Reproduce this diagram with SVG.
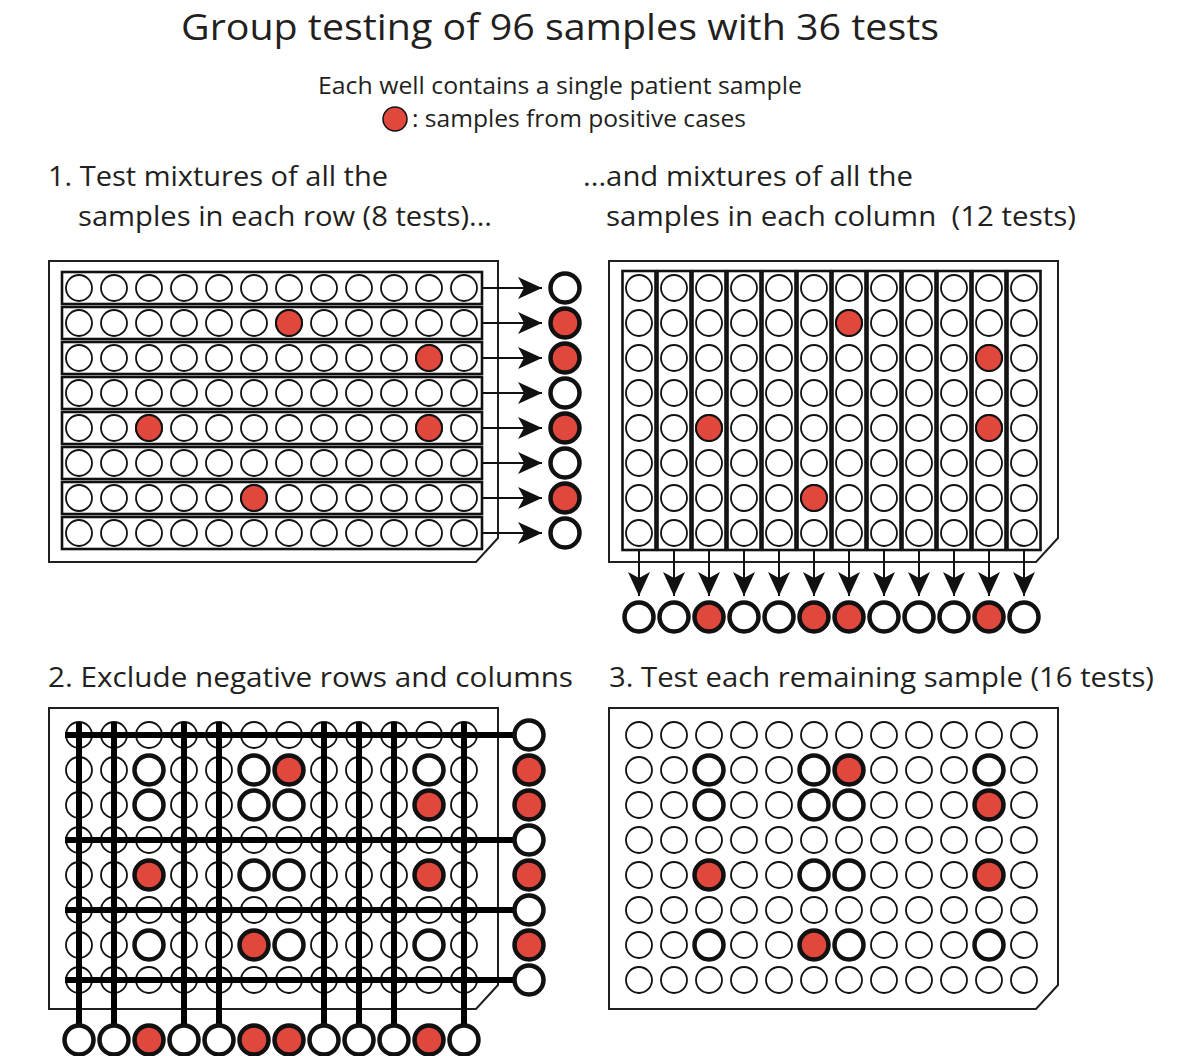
<svg xmlns="http://www.w3.org/2000/svg" xmlns:xlink="http://www.w3.org/1999/xlink" width="1200" height="1056" viewBox="0 0 1200 1056">
<style>
text{font-family:"Open Sans","Noto Sans","Liberation Sans",sans-serif;fill:#231F20}
.title{font-size:36px}
.sub{font-size:23px}
.head{font-size:27px}
.plate{fill:#fff;stroke:#231F20;stroke-width:2}
.strip{fill:#fff;stroke:#111;stroke-width:2.6}
.w{fill:#fff;stroke:#111;stroke-width:1.8}
.r{fill:#E0473D;stroke:#111;stroke-width:2}
.t{fill:#fff;stroke:#111;stroke-width:4.5}
.tr{fill:#E0473D;stroke:#111;stroke-width:4.5}
.res{fill:#fff;stroke:#111;stroke-width:4.5}
.resr{fill:#E0473D;stroke:#111;stroke-width:4.5}
.arr{stroke:#111;stroke-width:2;fill:none}
.bar{stroke:#000;stroke-width:6;fill:none}
</style>
<defs>
<marker id="ah" viewBox="0 0 24 22" refX="24" refY="11" markerWidth="24" markerHeight="22" markerUnits="userSpaceOnUse" orient="auto">
<path d="M0,0 L24,11 L0,22 L6,11 Z" fill="#111"/>
</marker>
<g id="row">
<circle class="w" cx="0" cy="0" r="13"/><circle class="w" cx="35" cy="0" r="13"/><circle class="w" cx="70" cy="0" r="13"/><circle class="w" cx="105" cy="0" r="13"/><circle class="w" cx="140" cy="0" r="13"/><circle class="w" cx="175" cy="0" r="13"/><circle class="w" cx="210" cy="0" r="13"/><circle class="w" cx="245" cy="0" r="13"/><circle class="w" cx="280" cy="0" r="13"/><circle class="w" cx="315" cy="0" r="13"/><circle class="w" cx="350" cy="0" r="13"/><circle class="w" cx="385" cy="0" r="13"/>
</g>
<g id="grid">
<use xlink:href="#row" y="0"/><use xlink:href="#row" y="35"/><use xlink:href="#row" y="70"/><use xlink:href="#row" y="105"/><use xlink:href="#row" y="140"/><use xlink:href="#row" y="175"/><use xlink:href="#row" y="210"/><use xlink:href="#row" y="245"/>
</g>
</defs>
<rect width="1200" height="1056" fill="#fff"/>

<g id="titles">
<text class="title" x="560" y="40" text-anchor="middle" textLength="758" lengthAdjust="spacingAndGlyphs">Group testing of 96 samples with 36 tests</text>
<text class="sub" x="560" y="94" text-anchor="middle" textLength="484" lengthAdjust="spacingAndGlyphs">Each well contains a single patient sample</text>
<circle class="r" cx="395" cy="119" r="12" style="stroke-width:1.5"/>
<text class="sub" x="412" y="127" textLength="334" lengthAdjust="spacingAndGlyphs">: samples from positive cases</text>
<text class="head" x="48" y="186" textLength="340" lengthAdjust="spacingAndGlyphs">1. Test mixtures of all the</text>
<text class="head" x="78" y="226" textLength="414" lengthAdjust="spacingAndGlyphs">samples in each row (8 tests)...</text>
<text class="head" x="583" y="186" textLength="330" lengthAdjust="spacingAndGlyphs">...and mixtures of all the</text>
<text class="head" x="606" y="226" textLength="470" lengthAdjust="spacingAndGlyphs" xml:space="preserve">samples in each column  (12 tests)</text>
<text class="head" x="48" y="687" textLength="525" lengthAdjust="spacingAndGlyphs">2. Exclude negative rows and columns</text>
<text class="head" x="609" y="687" textLength="545" lengthAdjust="spacingAndGlyphs">3. Test each remaining sample (16 tests)</text>
</g>

<!-- Panel 1: rows -->
<g id="plate1">
<path class="plate" d="M49,261 H498 V538 L476,562 H49 Z"/>
<rect class="strip" x="62" y="272" width="420" height="32"/>
<rect class="strip" x="62" y="307" width="420" height="32"/>
<rect class="strip" x="62" y="342" width="420" height="32"/>
<rect class="strip" x="62" y="377" width="420" height="32"/>
<rect class="strip" x="62" y="412" width="420" height="32"/>
<rect class="strip" x="62" y="447" width="420" height="32"/>
<rect class="strip" x="62" y="482" width="420" height="32"/>
<rect class="strip" x="62" y="517" width="420" height="32"/>
<use xlink:href="#grid" x="79" y="288"/>
<circle class="r" cx="289" cy="323" r="13"/>
<circle class="r" cx="429" cy="358" r="13"/>
<circle class="r" cx="149" cy="428" r="13"/>
<circle class="r" cx="429" cy="428" r="13"/>
<circle class="r" cx="254" cy="498" r="13"/>
</g>

<!-- Panel 2: columns -->
<g id="plate2">
<path class="plate" d="M609,261 H1058 V538 L1036,562 H609 Z"/>
<rect class="strip" x="622.5" y="271" width="33" height="279"/>
<rect class="strip" x="657.5" y="271" width="33" height="279"/>
<rect class="strip" x="692.5" y="271" width="33" height="279"/>
<rect class="strip" x="727.5" y="271" width="33" height="279"/>
<rect class="strip" x="762.5" y="271" width="33" height="279"/>
<rect class="strip" x="797.5" y="271" width="33" height="279"/>
<rect class="strip" x="832.5" y="271" width="33" height="279"/>
<rect class="strip" x="867.5" y="271" width="33" height="279"/>
<rect class="strip" x="902.5" y="271" width="33" height="279"/>
<rect class="strip" x="937.5" y="271" width="33" height="279"/>
<rect class="strip" x="972.5" y="271" width="33" height="279"/>
<rect class="strip" x="1007.5" y="271" width="33" height="279"/>
<use xlink:href="#grid" x="639" y="288"/>
<circle class="r" cx="849" cy="323" r="13"/>
<circle class="r" cx="989" cy="358" r="13"/>
<circle class="r" cx="709" cy="428" r="13"/>
<circle class="r" cx="989" cy="428" r="13"/>
<circle class="r" cx="814" cy="498" r="13"/>
</g>

<!-- Panel 3: exclusion -->
<g id="plate3">
<path class="plate" d="M49,708 H498 V985 L476,1009 H49 Z"/>
<use xlink:href="#grid" x="79" y="735"/>
</g>

<!-- Panel 4: remaining -->
<g id="plate4">
<path class="plate" d="M609,708 H1058 V985 L1036,1009 H609 Z"/>
<use xlink:href="#grid" x="639" y="735"/>
</g>

<g id="connectors">
<!-- row arrows -->
<line class="arr" x1="482" y1="288" x2="542" y2="288" marker-end="url(#ah)"/>
<line class="arr" x1="482" y1="323" x2="542" y2="323" marker-end="url(#ah)"/>
<line class="arr" x1="482" y1="358" x2="542" y2="358" marker-end="url(#ah)"/>
<line class="arr" x1="482" y1="393" x2="542" y2="393" marker-end="url(#ah)"/>
<line class="arr" x1="482" y1="428" x2="542" y2="428" marker-end="url(#ah)"/>
<line class="arr" x1="482" y1="463" x2="542" y2="463" marker-end="url(#ah)"/>
<line class="arr" x1="482" y1="498" x2="542" y2="498" marker-end="url(#ah)"/>
<line class="arr" x1="482" y1="533" x2="542" y2="533" marker-end="url(#ah)"/>
<!-- column arrows -->
<line class="arr" x1="639" y1="550" x2="639" y2="596" marker-end="url(#ah)"/>
<line class="arr" x1="674" y1="550" x2="674" y2="596" marker-end="url(#ah)"/>
<line class="arr" x1="709" y1="550" x2="709" y2="596" marker-end="url(#ah)"/>
<line class="arr" x1="744" y1="550" x2="744" y2="596" marker-end="url(#ah)"/>
<line class="arr" x1="779" y1="550" x2="779" y2="596" marker-end="url(#ah)"/>
<line class="arr" x1="814" y1="550" x2="814" y2="596" marker-end="url(#ah)"/>
<line class="arr" x1="849" y1="550" x2="849" y2="596" marker-end="url(#ah)"/>
<line class="arr" x1="884" y1="550" x2="884" y2="596" marker-end="url(#ah)"/>
<line class="arr" x1="919" y1="550" x2="919" y2="596" marker-end="url(#ah)"/>
<line class="arr" x1="954" y1="550" x2="954" y2="596" marker-end="url(#ah)"/>
<line class="arr" x1="989" y1="550" x2="989" y2="596" marker-end="url(#ah)"/>
<line class="arr" x1="1024" y1="550" x2="1024" y2="596" marker-end="url(#ah)"/>
<!-- exclusion bars -->
<line class="bar" x1="65" y1="735" x2="514" y2="735"/>
<line class="bar" x1="65" y1="840" x2="514" y2="840"/>
<line class="bar" x1="65" y1="910" x2="514" y2="910"/>
<line class="bar" x1="65" y1="980" x2="514" y2="980"/>
<line class="bar" x1="79" y1="722" x2="79" y2="1025"/>
<line class="bar" x1="114" y1="722" x2="114" y2="1025"/>
<line class="bar" x1="184" y1="722" x2="184" y2="1025"/>
<line class="bar" x1="219" y1="722" x2="219" y2="1025"/>
<line class="bar" x1="324" y1="722" x2="324" y2="1025"/>
<line class="bar" x1="359" y1="722" x2="359" y2="1025"/>
<line class="bar" x1="394" y1="722" x2="394" y2="1025"/>
<line class="bar" x1="464" y1="722" x2="464" y2="1025"/>
</g>

<g id="row-results">
<circle class="res" cx="565" cy="288" r="14.5"/>
<circle class="resr" cx="565" cy="323" r="14.5"/>
<circle class="resr" cx="565" cy="358" r="14.5"/>
<circle class="res" cx="565" cy="393" r="14.5"/>
<circle class="resr" cx="565" cy="428" r="14.5"/>
<circle class="res" cx="565" cy="463" r="14.5"/>
<circle class="resr" cx="565" cy="498" r="14.5"/>
<circle class="res" cx="565" cy="533" r="14.5"/>
</g>

<g id="column-results">
<circle class="res" cx="639" cy="617" r="14.5"/>
<circle class="res" cx="674" cy="617" r="14.5"/>
<circle class="resr" cx="709" cy="617" r="14.5"/>
<circle class="res" cx="744" cy="617" r="14.5"/>
<circle class="res" cx="779" cy="617" r="14.5"/>
<circle class="resr" cx="814" cy="617" r="14.5"/>
<circle class="resr" cx="849" cy="617" r="14.5"/>
<circle class="res" cx="884" cy="617" r="14.5"/>
<circle class="res" cx="919" cy="617" r="14.5"/>
<circle class="res" cx="954" cy="617" r="14.5"/>
<circle class="resr" cx="989" cy="617" r="14.5"/>
<circle class="res" cx="1024" cy="617" r="14.5"/>
</g>

<g id="plate3-candidates">
<circle class="t" cx="149" cy="770" r="14.5"/><circle class="t" cx="254" cy="770" r="14.5"/><circle class="tr" cx="289" cy="770" r="14.5"/><circle class="t" cx="429" cy="770" r="14.5"/>
<circle class="t" cx="149" cy="805" r="14.5"/><circle class="t" cx="254" cy="805" r="14.5"/><circle class="t" cx="289" cy="805" r="14.5"/><circle class="tr" cx="429" cy="805" r="14.5"/>
<circle class="tr" cx="149" cy="875" r="14.5"/><circle class="t" cx="254" cy="875" r="14.5"/><circle class="t" cx="289" cy="875" r="14.5"/><circle class="tr" cx="429" cy="875" r="14.5"/>
<circle class="t" cx="149" cy="945" r="14.5"/><circle class="tr" cx="254" cy="945" r="14.5"/><circle class="t" cx="289" cy="945" r="14.5"/><circle class="t" cx="429" cy="945" r="14.5"/>
</g>

<g id="plate3-row-results">
<circle class="res" cx="529" cy="735" r="14.5"/>
<circle class="resr" cx="529" cy="770" r="14.5"/>
<circle class="resr" cx="529" cy="805" r="14.5"/>
<circle class="res" cx="529" cy="840" r="14.5"/>
<circle class="resr" cx="529" cy="875" r="14.5"/>
<circle class="res" cx="529" cy="910" r="14.5"/>
<circle class="resr" cx="529" cy="945" r="14.5"/>
<circle class="res" cx="529" cy="980" r="14.5"/>
</g>

<g id="plate3-column-results">
<circle class="res" cx="79" cy="1040" r="14.5"/>
<circle class="res" cx="114" cy="1040" r="14.5"/>
<circle class="resr" cx="149" cy="1040" r="14.5"/>
<circle class="res" cx="184" cy="1040" r="14.5"/>
<circle class="res" cx="219" cy="1040" r="14.5"/>
<circle class="resr" cx="254" cy="1040" r="14.5"/>
<circle class="resr" cx="289" cy="1040" r="14.5"/>
<circle class="res" cx="324" cy="1040" r="14.5"/>
<circle class="res" cx="359" cy="1040" r="14.5"/>
<circle class="res" cx="394" cy="1040" r="14.5"/>
<circle class="resr" cx="429" cy="1040" r="14.5"/>
<circle class="res" cx="464" cy="1040" r="14.5"/>
</g>

<g id="plate4-candidates">
<circle class="t" cx="709" cy="770" r="14.5"/><circle class="t" cx="814" cy="770" r="14.5"/><circle class="tr" cx="849" cy="770" r="14.5"/><circle class="t" cx="989" cy="770" r="14.5"/>
<circle class="t" cx="709" cy="805" r="14.5"/><circle class="t" cx="814" cy="805" r="14.5"/><circle class="t" cx="849" cy="805" r="14.5"/><circle class="tr" cx="989" cy="805" r="14.5"/>
<circle class="tr" cx="709" cy="875" r="14.5"/><circle class="t" cx="814" cy="875" r="14.5"/><circle class="t" cx="849" cy="875" r="14.5"/><circle class="tr" cx="989" cy="875" r="14.5"/>
<circle class="t" cx="709" cy="945" r="14.5"/><circle class="tr" cx="814" cy="945" r="14.5"/><circle class="t" cx="849" cy="945" r="14.5"/><circle class="t" cx="989" cy="945" r="14.5"/>
</g>
</svg>
